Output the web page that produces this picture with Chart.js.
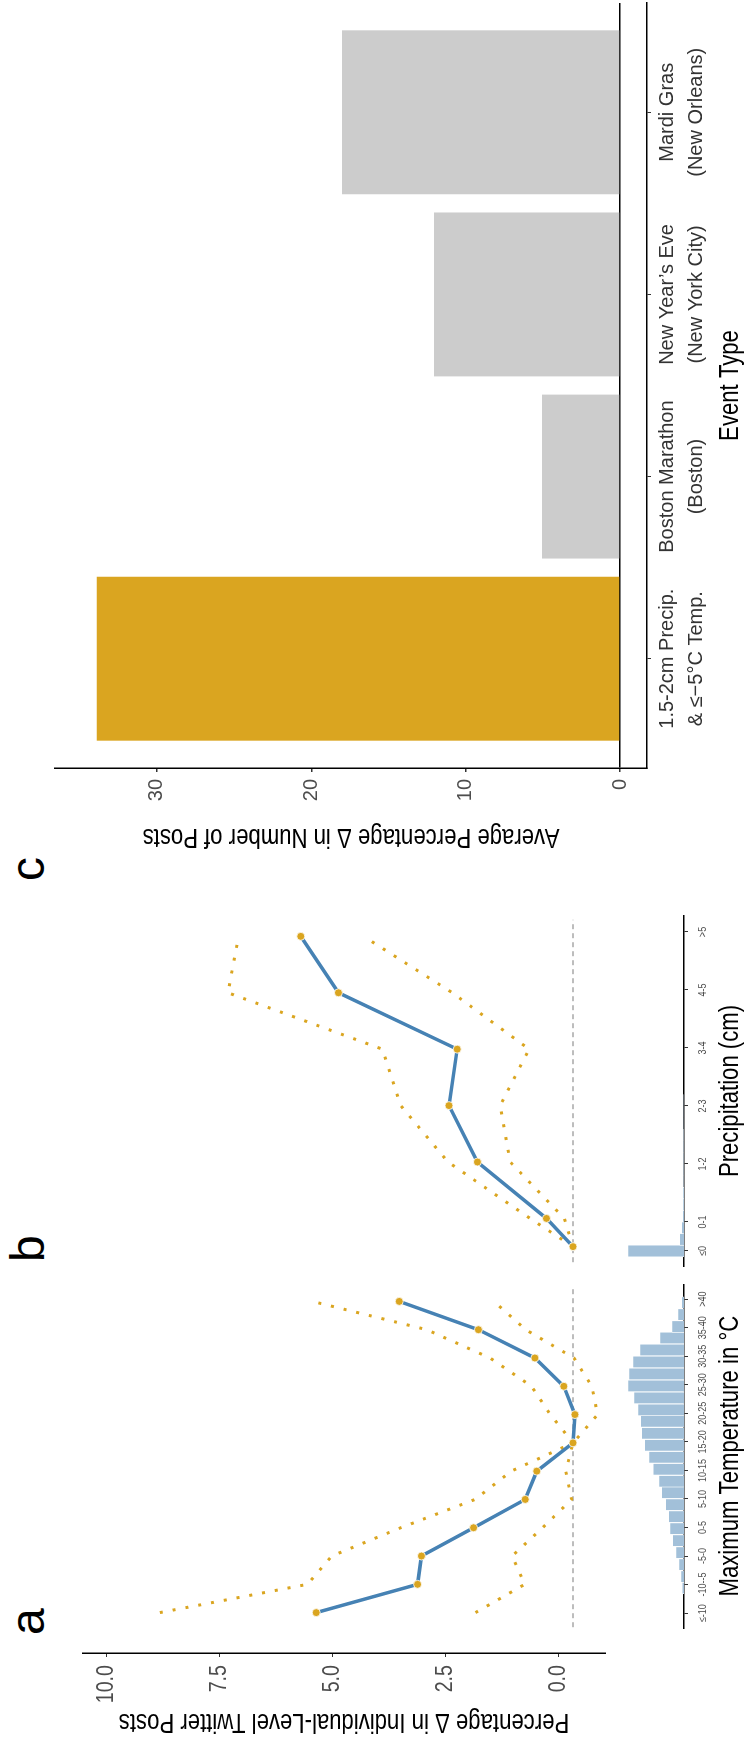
<!DOCTYPE html>
<html>
<head>
<meta charset="utf-8">
<script src="https://cdn.jsdelivr.net/npm/chart.js@4.4.1/dist/chart.umd.min.js"></script>
<style>
  html, body { margin: 0; padding: 0; background: #fff; overflow: hidden; }
  body { width: 750px; height: 1740px; position: relative; }
  /* the figure is laid out landscape and turned a quarter to the left */
  #figure {
    position: absolute; left: 0; top: 0;
    width: 1740px; height: 750px;
    transform-origin: 0 0;
    transform: translate(0, 1740px) rotate(-90deg);
  }
  .box { position: absolute; }
  .box canvas { display: block; }
  .tag {
    position: absolute;
    font-family: "Liberation Sans", Arial, sans-serif;
    font-size: 48px; line-height: 48px; color: #000;
  }
</style>
</head>
<body>
<div id="figure">
  <div class="tag" style="left:105px; top:4px">a</div>
  <div class="tag" style="left:478px; top:4px">b</div>
  <div class="tag" style="left:859px; top:4px">c</div>
  <div class="box" style="left:2px; top:60px"><canvas id="axis-effect" width="89" height="568"></canvas></div>
  <div class="box" style="left:108px; top:60px"><canvas id="chart-temp" width="350" height="568"></canvas></div>
  <div class="box" style="left:108px; top:627px"><canvas id="hist-temp" width="350" height="123"></canvas></div>
  <div class="box" style="left:473px; top:60px"><canvas id="chart-precip" width="352" height="568"></canvas></div>
  <div class="box" style="left:473px; top:627px"><canvas id="hist-precip" width="352" height="123"></canvas></div>
  <div class="box" style="left:887px; top:0px"><canvas id="chart-events" width="853" height="750"></canvas></div>
</div>

<script>
// ---- data ----
const tempLabels = ["≤-10", "-10--5", "-5-0", "0-5", "5-10", "10-15", "15-20", "20-25", "25-30", "30-35", "35-40", ">40"];
const tempCenters = [-12.5, -7.5, -2.5, 2.5, 7.5, 12.5, 17.5, 22.5, 27.5, 32.5, 37.5, 42.5];
const tempEffect = [5.32, 3.22, 3.14, 2.06, 0.99, 0.75, 0.0, -0.04, 0.19, 0.79, 1.96, 3.6];
const tempUpper = [8.56, 5.5, 5.0, 3.57, 2.03, 1.28, 0.0, 0.47, 0.86, 1.72, 3.03, 5.4];
const tempLower = [2.02, 1.0, 1.26, 0.63, 0.03, 0.15, 0.0, -0.51, -0.39, -0.02, 0.98, 1.64];

const tempHistBins = [-8.1, -6.1, -4.0, -1.9, 0.2, 2.3, 4.4, 6.5, 8.6, 10.6, 12.7, 14.8, 16.9,
  19.0, 21.1, 23.1, 25.2, 27.3, 29.4, 31.5, 33.6, 35.7, 37.7, 39.8, 41.9];
const tempHistShare = [1.7, 3.0, 5.0, 8.0, 11.3, 14.0, 15.3, 18.3, 22.3, 25.0, 30.7, 35.0, 39.3,
  42.3, 43.3, 46.0, 50.0, 56.0, 55.0, 51.0, 44.0, 24.0, 12.0, 6.0, 2.3];

const precipLabels = ["≤0", "0-1", "1-2", "2-3", "3-4", "4-5", ">5"];
const precipCenters = [0, 0.5, 1.5, 2.5, 3.5, 4.5, 5.5];
const precipEffect = [0, 0.55, 1.98, 2.57, 2.4, 4.86, 5.64];
const precipUpper = [0, 0.89, 2.59, 3.57, 3.95, 7.15, 6.93];
const precipLower = [0, 0.18, 1.3, 1.51, 0.91, 2.5, 4.34];

const precipHistBins = [0, 0.2, 0.4, 0.6, 0.8, 1.0, 1.2, 1.4, 1.6, 1.8, 2.0, 2.2, 2.4, 2.6];
const precipHistShare = [56, 4.3, 2.3, 1.3, 0.8, 0.6, 0.5, 0.4, 0.4, 0.3, 0.3, 0.2, 0.2, 0.2];

const effectTicks = [0, 2.5, 5, 7.5, 10];

const eventLabels = [
  ["1.5-2cm Precip.", "& ≤−5°C Temp."],
  ["Boston Marathon", "(Boston)"],
  ["New Year’s Eve", "(New York City)"],
  ["Mardi Gras", "(New Orleans)"],
];
const eventPositions = [1, 2, 3, 4];
const eventValues = [33.9, 5.05, 12.05, 18.0];
const eventTicks = [0, 10, 20, 30];

// ---- look ----
// no condensed face is installed, so text set in NARROW gets squeezed by hand (see condensed())
const NARROW = "'Liberation Sans Narrow', 'Liberation Sans', Arial, sans-serif";
const REGULAR = "'Liberation Sans', Arial, sans-serif";
const SQUEEZE = 0.82;
const BLUE = "#4682b4";
const GOLD = "#daa520";
const HIST_BLUE = "#a2c0d9";
const GREY_BAR = "#cccccc";
const EFFECT_MIN = -1.04;
const EFFECT_MAX = 10.53;

Chart.defaults.font.family = REGULAR;
Chart.defaults.color = "#4d4d4d";
Chart.defaults.animation = false;
Chart.defaults.responsive = false;
Chart.defaults.plugins.legend.display = false;
Chart.defaults.plugins.tooltip.enabled = false;

function condensed(id) {
  const ctx = document.getElementById(id).getContext("2d");
  const fill = ctx.fillText.bind(ctx);
  ctx.fillText = function (text, x, y, maxWidth) {
    if (!this.font.includes("Narrow")) return fill(text, x, y, maxWidth);
    this.save();
    this.translate(x, y);
    this.scale(SQUEEZE, 1);
    fill(text, 0, 0, maxWidth);
    this.restore();
  };
  return ctx;
}

const zeroLine = {
  id: "zeroLine",
  beforeDatasetsDraw(chart) {
    const { ctx, chartArea, scales } = chart;
    const y = scales.y.getPixelForValue(0);
    ctx.save();
    ctx.strokeStyle = "#a8a8a8";
    ctx.lineWidth = 1.5;
    ctx.setLineDash([5, 4]);
    ctx.beginPath();
    ctx.moveTo(chartArea.left, y);
    ctx.lineTo(chartArea.right, y);
    ctx.stroke();
    ctx.restore();
  },
};

function pairs(xs, ys) {
  return xs.map((x, i) => ({ x, y: ys[i] }));
}

function fixedTicks(values) {
  return (scale) => {
    scale.ticks = values.map((v) => ({ value: v }));
  };
}

function ciDataset(points) {
  return {
    data: points,
    borderColor: GOLD,
    borderWidth: 3,
    borderDash: [3, 10],
    borderCapStyle: "butt",
    pointRadius: 0,
    clip: false,
  };
}

function initEffectAxis() {
  new Chart(condensed("axis-effect"), {
    type: "line",
    data: { datasets: [] },
    options: {
      layout: { padding: 0 },
      scales: {
        x: { type: "linear", display: false },
        y: {
          type: "linear",
          min: EFFECT_MIN,
          max: EFFECT_MAX,
          afterBuildTicks: fixedTicks(effectTicks),
          afterFit: (s) => { s.width = 85; },
          ticks: {
            callback: (v) => v.toFixed(1),
            padding: 8,
            font: { family: NARROW, size: 24 },
            color: "#4d4d4d",
          },
          grid: { drawOnChartArea: false, tickLength: 4, tickColor: "#333" },
          border: { color: "#000", width: 1.5 },
          title: {
            display: true,
            text: "Percentage Δ in Individual-Level Twitter Posts",
            color: "#000",
            font: { family: NARROW, size: 27 },
            padding: { top: 0, bottom: 0 },
          },
        },
      },
    },
  });
}

function initEffectChart(id, centers, effect, upper, lower, range) {
  new Chart(document.getElementById(id), {
    type: "line",
    data: {
      datasets: [
        {
          data: pairs(centers, effect),
          borderColor: BLUE,
          borderWidth: 3.5,
          pointRadius: 4,
          pointBackgroundColor: GOLD,
          pointBorderColor: "#fff",
          pointBorderWidth: 0.8,
          clip: false,
        },
        ciDataset(pairs(centers, upper)),
        ciDataset(pairs(centers, lower)),
      ],
    },
    options: {
      layout: { padding: 0 },
      scales: {
        x: { type: "linear", min: range[0], max: range[1], display: false },
        y: { type: "linear", min: EFFECT_MIN, max: EFFECT_MAX, display: false },
      },
    },
    plugins: [zeroLine],
  });
}

function initHistChart(id, bins, shares, range, centers, labels, title) {
  new Chart(condensed(id), {
    type: "bar",
    data: {
      datasets: [{
        data: pairs(bins, shares),
        backgroundColor: HIST_BLUE,
        borderColor: "#fff",
        borderWidth: 0.6,
        barPercentage: 1,
        categoryPercentage: 1,
      }],
    },
    options: {
      layout: { padding: 0 },
      scales: {
        x: {
          type: "linear",
          min: range[0],
          max: range[1],
          offset: false,
          afterBuildTicks: fixedTicks(centers),
          afterFit: (s) => { s.height = 66; },
          ticks: {
            callback: (v, i) => labels[i],
            autoSkip: false,
            maxRotation: 0,
            minRotation: 0,
            padding: 8,
            font: { family: NARROW, size: 11 },
            color: "#4d4d4d",
          },
          grid: { drawOnChartArea: false, tickLength: 4, tickColor: "#333", offset: false },
          border: { color: "#000", width: 1.5 },
          title: {
            display: true,
            text: title,
            color: "#000",
            font: { family: NARROW, size: 27 },
            padding: { top: 0, bottom: 3 },
          },
        },
        y: { type: "linear", min: 0, max: 57, display: false },
      },
    },
  });
}

function initEventChart() {
  new Chart(condensed("chart-events"), {
    type: "bar",
    data: {
      datasets: [{
        data: pairs(eventPositions, eventValues),
        backgroundColor: [GOLD, GREY_BAR, GREY_BAR, GREY_BAR],
        barPercentage: 0.9,
        categoryPercentage: 1,
      }],
    },
    options: {
      layout: { padding: { top: 55, right: 3 } },
      scales: {
        x: {
          type: "linear",
          min: 0.4,
          max: 4.6,
          offset: false,
          afterBuildTicks: fixedTicks(eventPositions),
          afterFit: (s) => { s.height = 103; },
          ticks: {
            callback: (v, i) => eventLabels[i],
            autoSkip: false,
            maxRotation: 0,
            minRotation: 0,
            padding: 2,
            font: { family: REGULAR, size: 20, lineHeight: 1.45 },
            color: "#333",
          },
          grid: { drawOnChartArea: false, tickLength: 4, tickColor: "#333", offset: false },
          border: { color: "#000", width: 1.5 },
          title: {
            display: true,
            text: "Event Type",
            color: "#000",
            font: { family: NARROW, size: 27 },
            padding: { top: 0, bottom: 3 },
          },
        },
        y: {
          type: "linear",
          min: -1.75,
          max: 36.6,
          afterBuildTicks: fixedTicks(eventTicks),
          afterFit: (s) => { s.width = 85; },
          ticks: { padding: 7, font: { family: REGULAR, size: 20 }, color: "#4d4d4d" },
          grid: {
            color: (c) => (c.tick && c.tick.value === 0 ? "#000" : "rgba(0,0,0,0)"),
            lineWidth: 1.5,
            tickColor: "#333",
            tickLength: 4,
          },
          border: { color: "#000", width: 1.5 },
          title: {
            display: true,
            text: "Average Percentage Δ in Number of Posts",
            color: "#000",
            font: { family: NARROW, size: 27 },
            padding: { top: 0, bottom: 0 },
          },
        },
      },
    },
  });
}

document.addEventListener("DOMContentLoaded", () => {
  initEffectAxis();
  initEffectChart("chart-temp", tempCenters, tempEffect, tempUpper, tempLower, [-15.08, 45.08]);
  initHistChart("hist-temp", tempHistBins, tempHistShare, [-15.08, 45.08], tempCenters, tempLabels,
    "Maximum Temperature in °C");
  initEffectChart("chart-precip", precipCenters, precipEffect, precipUpper, precipLower, [-0.276, 5.793]);
  initHistChart("hist-precip", precipHistBins, precipHistShare, [-0.276, 5.793], precipCenters, precipLabels,
    "Precipitation (cm)");
  initEventChart();
});
</script>
</body>
</html>
